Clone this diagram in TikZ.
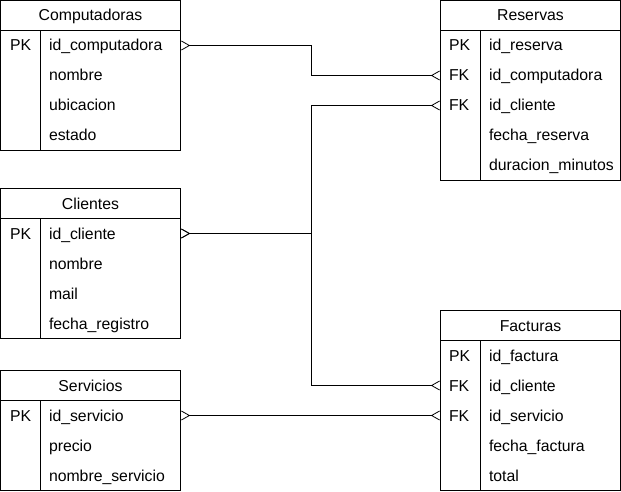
\documentclass[tikz,border=0pt]{standalone}
\usepackage{fontspec}
\setmainfont{Liberation Sans}
\usetikzlibrary{arrows.meta}
\tikzset{many/.tip={Straight Barb[reversed, length=8pt, width=9pt, line width=0.8pt]}}
\begin{document}
\begin{tikzpicture}[x=1pt, y=-1pt, line width=1pt,
    every node/.style={font=\fontsize{15.8}{18}\selectfont, inner sep=0pt, text height=11pt, text depth=0pt},
    hdr/.style={draw, minimum width=180pt, minimum height=30pt},
    key/.style={anchor=west},
    fld/.style={anchor=west},
    rel/.style={arrows={many-many}}]
    \useasboundingbox (0,0) rectangle (621,492);

    % Computadoras
    \node[hdr] (comp) at (90.5,15.5) {Computadoras};
    \draw (0.5,30.5) rectangle (180.5,150.5) (40.5,30.5) -- (40.5,150.5);
    \draw (9.5,45.5) node[key](ck1){PK}
          (48.5,45.5) node[fld](cf1){id\_computadora}
          (48.5,75.5) node[fld](cf2){nombre}
          (48.5,105.5) node[fld](cf3){ubicacion}
          (48.5,135.5) node[fld](cf4){estado};

    % Reservas
    \node[hdr] (res) at (530.5,15.5) {Reservas};
    \draw (440.5,30.5) rectangle (620.5,180.5) (480.5,30.5) -- (480.5,180.5);
    \draw (448.5,45.5) node[key](rk1){PK}
          (448.5,75.5) node[key](rk2){FK}
          (448.5,105.5) node[key](rk3){FK}
          (488.5,45.5) node[fld](rf1){id\_reserva}
          (488.5,75.5) node[fld](rf2){id\_computadora}
          (488.5,105.5) node[fld](rf3){id\_cliente}
          (488.5,135.5) node[fld](rf4){fecha\_reserva}
          (488.5,165.5) node[fld](rf5){duracion\_minutos};

    % Clientes
    \node[hdr] (cli) at (90.5,203.5) {Clientes};
    \draw (0.5,218.5) rectangle (180.5,338.5) (40.5,218.5) -- (40.5,338.5);
    \draw (9.5,233.5) node[key](lk1){PK}
          (48.5,233.5) node[fld](lf1){id\_cliente}
          (48.5,263.5) node[fld](lf2){nombre}
          (48.5,293.5) node[fld](lf3){mail}
          (48.5,323.5) node[fld](lf4){fecha\_registro};

    % Servicios
    \node[hdr] (serv) at (90.5,385.5) {Servicios};
    \draw (0.5,400.5) rectangle (180.5,490.5) (40.5,400.5) -- (40.5,490.5);
    \draw (9.5,415.5) node[key](sk1){PK}
          (48.5,415.5) node[fld](sf1){id\_servicio}
          (48.5,445.5) node[fld](sf2){precio}
          (48.5,475.5) node[fld](sf3){nombre\_servicio};

    % Facturas
    \node[hdr] (fact) at (530.5,325.5) {Facturas};
    \draw (440.5,340.5) rectangle (620.5,490.5) (480.5,340.5) -- (480.5,490.5);
    \draw (448.5,355.5) node[key](fk1){PK}
          (448.5,385.5) node[key](fk2){FK}
          (448.5,415.5) node[key](fk3){FK}
          (488.5,355.5) node[fld](ff1){id\_factura}
          (488.5,385.5) node[fld](ff2){id\_cliente}
          (488.5,415.5) node[fld](ff3){id\_servicio}
          (488.5,445.5) node[fld](ff4){fecha\_factura}
          (488.5,475.5) node[fld](ff5){total};

    \draw[rel] (cf1 -| comp.east) -- ++(130,0) |- (rk2 -| res.west);
    \draw[rel] (lf1 -| cli.east) -- ++(130,0) |- (rk3 -| res.west);
    \draw[rel] (lf1 -| cli.east) -- ++(130,0) |- (fk2 -| fact.west);
    \draw[rel] (sf1 -| serv.east) -- (fk3 -| fact.west);
\end{tikzpicture}
\end{document}
